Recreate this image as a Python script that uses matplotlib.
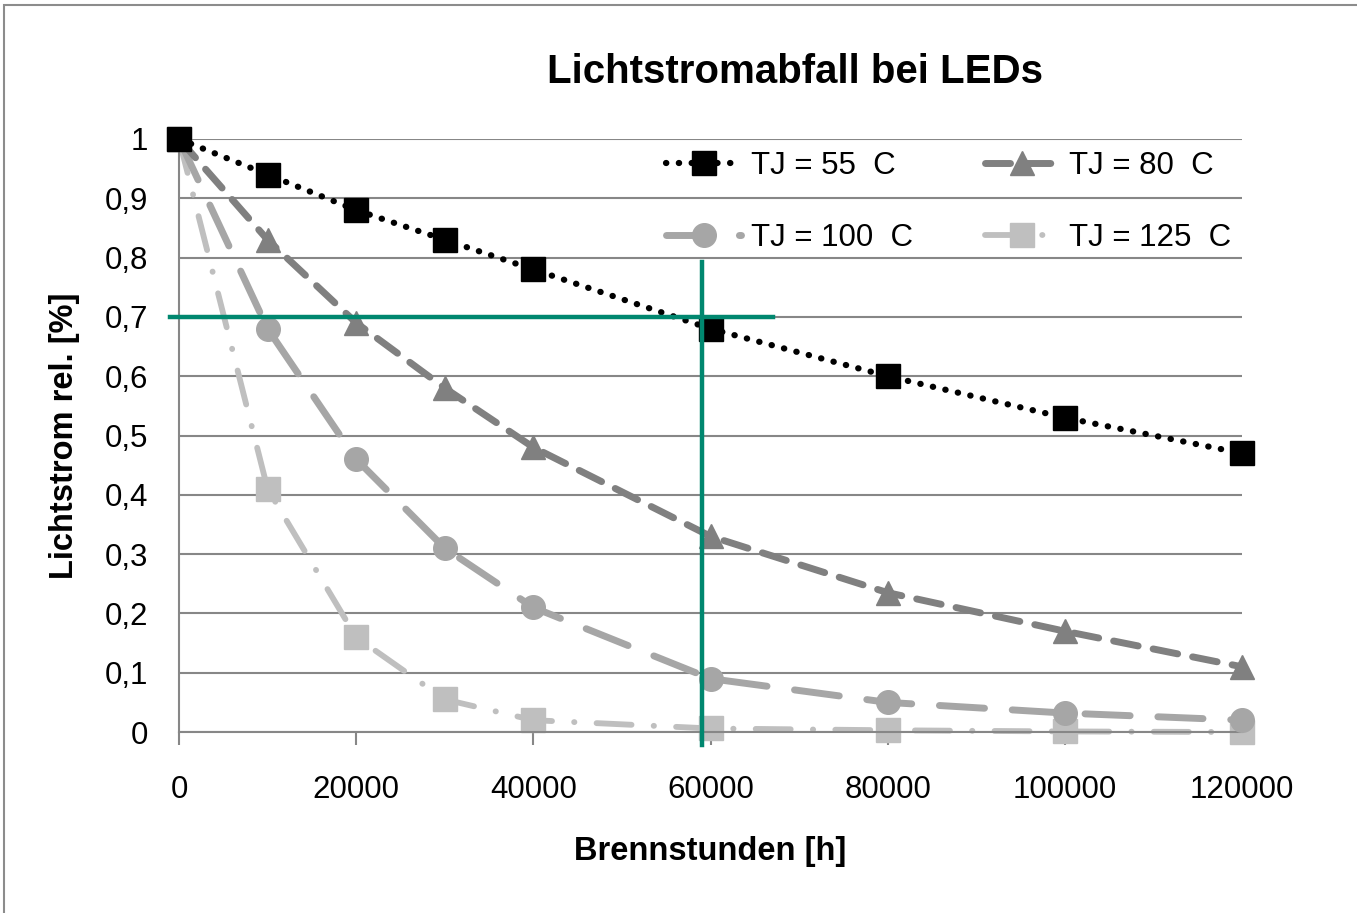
import matplotlib.pyplot as plt
from matplotlib.patches import Rectangle

plt.rcParams['font.family'] = ['Liberation Sans', 'DejaVu Sans']

# burn hours and relative luminous flux per junction temperature
hours = [0, 10000, 20000, 30000, 40000, 60000, 80000, 100000, 120000]
tj55 = [1.0, 0.94, 0.88, 0.83, 0.78, 0.68, 0.60, 0.53, 0.47]
tj80 = [1.0, 0.83, 0.69, 0.58, 0.48, 0.33, 0.235, 0.17, 0.11]
tj100 = [1.0, 0.68, 0.46, 0.31, 0.21, 0.09, 0.05, 0.032, 0.02]
tj125 = [1.0, 0.41, 0.16, 0.055, 0.02, 0.006, 0.003, 0.001, 0.0]
labels = ['TJ = 55  C', 'TJ = 80  C', 'TJ = 100  C', 'TJ = 125  C']

xticks = [0, 20000, 40000, 60000, 80000, 100000, 120000]
yticks = [0, 0.1, 0.2, 0.3, 0.4, 0.5, 0.6, 0.7, 0.8, 0.9, 1.0]
ytick_labels = ['0', '0,1', '0,2', '0,3', '0,4', '0,5', '0,6', '0,7', '0,8', '0,9', '1']

# marker lines at 70 % flux / 59000 h
level = 0.7
level_hours = 59000

fig = plt.figure(figsize=(13.57, 9.13), dpi=100)
ax = fig.add_axes([0.1319, 0.1982, 0.7834, 0.6496])

grid_c = '#878787'
ax.set_xlim(0, 120000)
ax.set_ylim(0, 1)
ax.set_yticks(yticks)
ax.set_yticklabels(ytick_labels)
ax.set_xticks(xticks)
ax.set_xticklabels([str(t) for t in xticks])
ax.tick_params(axis='both', labelsize=22.5, colors=grid_c, labelcolor='black')
ax.tick_params(axis='x', length=9, width=1.5, pad=22)
ax.tick_params(axis='y', length=0, pad=22)
ax.yaxis.grid(True, color=grid_c, linewidth=1.5)
ax.set_axisbelow(True)
for side in ['top', 'right']:
    ax.spines[side].set_visible(False)
for side in ['left', 'bottom']:
    ax.spines[side].set_color(grid_c)
    ax.spines[side].set_linewidth(1.5)

l55, = ax.plot(hours, tj55, color='black', lw=4.5, linestyle=(0, (0.05, 2.0)),
               dash_capstyle='round', marker='s', ms=17, label=labels[0], clip_on=False, zorder=5)
l80, = ax.plot(hours, tj80, color='#808080', lw=5, linestyle=(0, (3.6, 2.2)),
               dash_capstyle='round', marker='^', ms=17, label=labels[1], clip_on=False, zorder=4)
l100, = ax.plot(hours, tj100, color='#a6a6a6', lw=5, linestyle=(0, (6.5, 4)),
                dash_capstyle='round', marker='o', ms=17, label=labels[2], clip_on=False, zorder=3)
l125, = ax.plot(hours, tj125, color='#bfbfbf', lw=4.2, linestyle=(0, (6, 3.8, 0.05, 3.8)),
                dash_capstyle='round', marker='s', ms=17, label=labels[3], clip_on=False, zorder=2)

green = '#00876f'
ax.plot([-1000, 67000], [level, level], color=green, lw=3.2, clip_on=False, zorder=6)
ax.plot([level_hours, level_hours], [-0.022, 0.793], color=green, lw=3.2, clip_on=False, zorder=6)

# legend is filled row by row: 55 / 80 on top, 100 / 125 below
ax.legend([l55, l100, l80, l125], [labels[0], labels[2], labels[1], labels[3]],
          loc='upper left', bbox_to_anchor=(0.432, 1.027), ncol=2, frameon=False,
          fontsize=22.5, handlelength=2.4, columnspacing=2.3, labelspacing=1.35,
          handletextpad=0.3)

ax.set_xlabel('Brennstunden [h]', fontsize=23.5, fontweight='bold', labelpad=22)
ax.set_ylabel('Lichtstrom rel. [%]', fontsize=23.5, fontweight='bold', labelpad=18)
fig.text(0.586, 0.921, 'Lichtstromabfall bei LEDs', fontsize=29, fontweight='bold',
         ha='center', va='center')

# outer chart frame
fig.patches.append(Rectangle((0.003, -0.1), 1.1, 1.095, transform=fig.transFigure,
                             fill=False, edgecolor='#8c8c8c', linewidth=1.5))

fig.savefig('out.png', dpi=100)
